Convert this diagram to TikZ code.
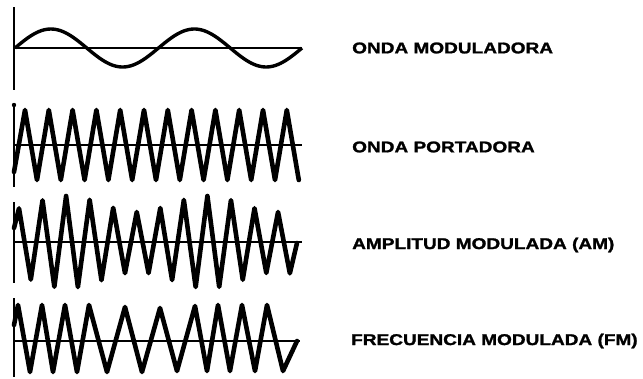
\documentclass[tikz,border=0pt]{standalone}
\usepackage{fontspec}
\usepackage{tikz}
\newfontfamily\lblfont[FakeStretch=1.22,FakeBold=1.5]{Liberation Sans}
\tikzset{
  lbl/.style={font=\lblfont\bfseries\fontsize{15.6}{16}\selectfont, anchor=west, inner sep=0pt},
  axisline/.style={line width=2.8pt},
  modwave/.style={line width=3.4pt, line join=round},
  trwave/.style={line width=4.6pt, line join=round, line cap=round}
}

\begin{document}
\begin{tikzpicture}[x=1pt, y=-1pt]
  \useasboundingbox (0,0) rectangle (643,378);
  % axes of the four panels
  \foreach \top/\mid/\bot/\xend in {7/48/90/302, 105/145/187/302, 202/242/283/302, 298/341/377/300}{
    \draw[axisline] (14,\top) -- (14,\bot);
    \draw[axisline] (14,\mid) -- (\xend,\mid);
  }
  \fill (14,105) circle (2.2pt);
  % modulating wave
  \draw[modwave] plot[domain=15:302, samples=120, smooth] (\x, {48-19*sin((\x-15)/143.5*360)});
  % carrier
  \draw[trwave] (14,172) \foreach \k in {0,...,11}{ -- ({25+23.8*\k},110) -- ({37+23.8*\k},180) };
  % AM
  \draw[trwave] (14,228) \foreach \k in {0,...,11}{
      -- ({19+23.55*\k},{244-(40+8*cos((19+23.55*\k-67)/140*360))})
      -- ({30.8+23.55*\k},{240+(40+8*cos((30.8+23.55*\k-67)/140*360))}) } -- (297,243);
  % FM
  \draw[trwave] (14,325) \foreach \px/\py in {18/305, 30/372, 42/305, 53/372, 65/305, 77/372, 89/305,
      107/372, 125/307, 142/372, 160/308, 177/371, 195/306, 207/371, 218/305, 230/371, 242/305,
      255/371, 267/305, 283/371, 297/341}{ -- (\px,\py) };
  \node[lbl] (lmod) at (352,48) {ONDA MODULADORA};
  \node[lbl] (lcar) at (352,147) {ONDA PORTADORA};
  \node[lbl] (lam) at (352,245) {AMPLITUD MODULADA (AM)};
  \node[lbl] (lfm) at (351,341) {FRECUENCIA MODULADA (FM)};
\end{tikzpicture}
\end{document}
